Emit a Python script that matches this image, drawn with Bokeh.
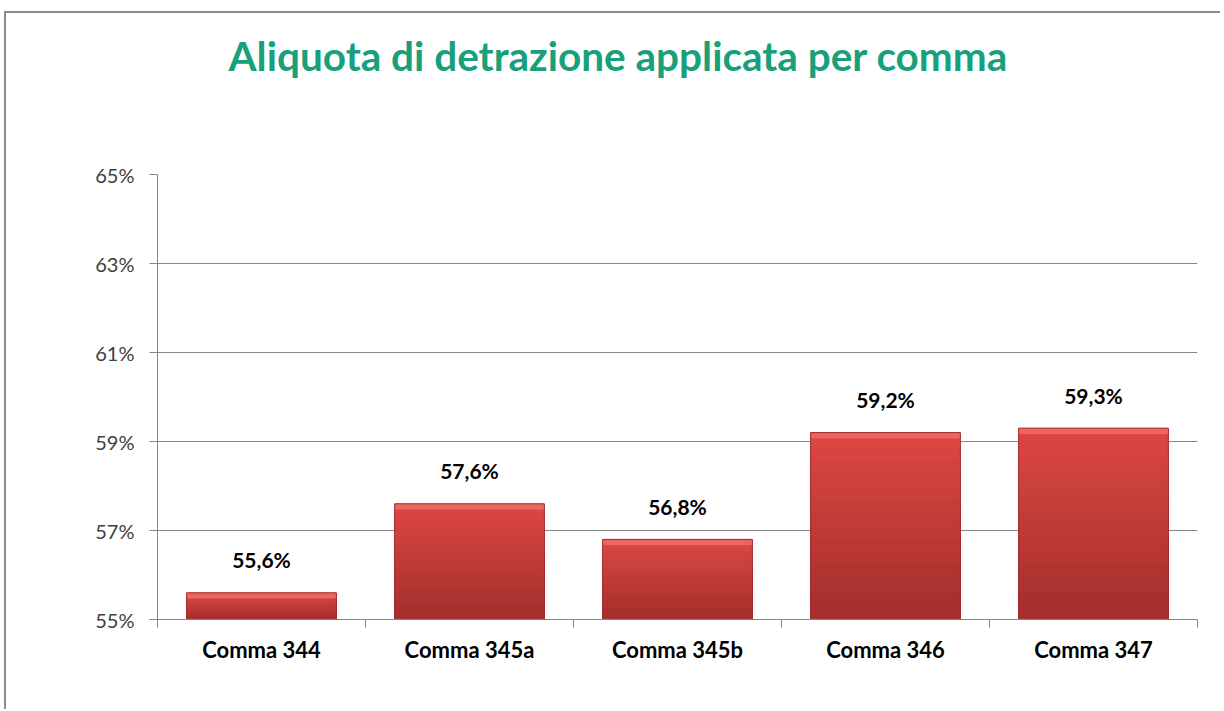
from bokeh.plotting import figure
from bokeh.models import FixedTicker, Range1d, Title
from bokeh.core.properties import value
from bokeh.embed import file_html
from bokeh.resources import INLINE

title_text = "Aliquota di detrazione applicata per comma"
categories = ["Comma 344", "Comma 345a", "Comma 345b", "Comma 346", "Comma 347"]
values = [55.6, 57.6, 56.8, 59.2, 59.3]
value_labels = ["55,6%", "57,6%", "56,8%", "59,2%", "59,3%"]
y_ticks = [55, 57, 59, 61, 63, 65]
y_tick_labels = ["55%", "57%", "59%", "61%", "63%", "65%"]

y_min, y_max = 55, 65
centers = [i + 0.5 for i in range(len(categories))]
bar_w = 0.72

p = figure(width=1216, height=698, x_range=Range1d(0, len(categories)),
           y_range=Range1d(y_min, y_max), output_backend="svg",
           toolbar_location=None, min_border_left=151, min_border_right=25,
           min_border_bottom=92, min_border_top=161)
p.outline_line_color = None
p.background_fill_color = "white"
p.border_fill_color = "white"
p.styles = {"border-left": "2px solid #8c8c8c", "border-top": "2px solid #8c8c8c",
            "margin-left": "4px", "margin-top": "11px"}

# spacer between frame and title, then the title itself (outermost)
spacer = Title(text=" ", text_font_size="1px", standoff=92)
p.add_layout(spacer, "above")
main_title = Title(text=title_text, align="left", offset=71, standoff=0,
                   text_font="Lato", text_font_style="bold",
                   text_font_size="40.5px", text_color="#17a07b")
p.add_layout(main_title, "above")

# y axis
p.yaxis.ticker = FixedTicker(ticks=y_ticks)
p.yaxis.major_label_overrides = {t: l for t, l in zip(y_ticks, y_tick_labels)}
p.yaxis.major_tick_out = 8
p.yaxis.major_tick_in = 0
p.yaxis.minor_tick_out = 0
p.yaxis.minor_tick_in = 0
p.yaxis.axis_line_color = "#868686"
p.yaxis.major_tick_line_color = "#868686"
p.yaxis.major_label_text_font = "Lato"
p.yaxis.major_label_text_font_size = "20px"
p.yaxis.major_label_text_color = "#404040"
p.yaxis.major_label_standoff = 15

# x axis: labels at centers, ticks at boundaries
p.xaxis.ticker = FixedTicker(ticks=centers, minor_ticks=list(range(len(categories) + 1)))
p.xaxis.major_label_overrides = {c: n for c, n in zip(centers, categories)}
p.xaxis.major_tick_out = 0
p.xaxis.major_tick_in = 0
p.xaxis.minor_tick_out = 8
p.xaxis.minor_tick_in = 0
p.xaxis.minor_tick_line_color = "#868686"
p.xaxis.axis_line_color = "#868686"
p.xaxis.major_label_text_font = "Lato"
p.xaxis.major_label_text_font_style = "bold"
p.xaxis.major_label_text_font_size = "22px"
p.xaxis.major_label_text_color = "#000000"
p.xaxis.major_label_standoff = 8

p.xgrid.visible = False
p.ygrid.ticker = FixedTicker(ticks=y_ticks)
p.ygrid.grid_line_color = "#868686"
p.ygrid.grid_line_width = 1

# bars with a simulated vertical gradient (overlapping layers, light -> dark)
top_rgb = (0xda, 0x47, 0x43)
bot_rgb = (0xa4, 0x2f, 0x2c)
n_bands = 14
for k in range(n_bands):
    frac = 1 - k / n_bands
    t = k / (n_bands - 1)
    col = "#%02x%02x%02x" % tuple(int(round(a + (b - a) * t)) for a, b in zip(top_rgb, bot_rgb))
    tops = [y_min + (v - y_min) * frac for v in values]
    p.vbar(x=centers, width=bar_w, bottom=y_min, top=tops,
           fill_color=col, line_color=None)

# top bevel highlight
p.vbar(x=centers, width=bar_w, bottom=[v - 0.13 for v in values], top=values,
       fill_color="#ec6661", line_color=None)
# outline
p.vbar(x=centers, width=bar_w, bottom=y_min, top=values,
       fill_color=None, line_color="#a22c29", line_width=1)

# value labels
p.text(x=centers, y=values, text=value_labels, text_align="center",
       text_baseline="middle", y_offset=-33, text_font=value("Lato"),
       text_font_style="bold", text_font_size="21px", text_color="#000000")

open("out.html", "w").write(file_html(p, INLINE))
